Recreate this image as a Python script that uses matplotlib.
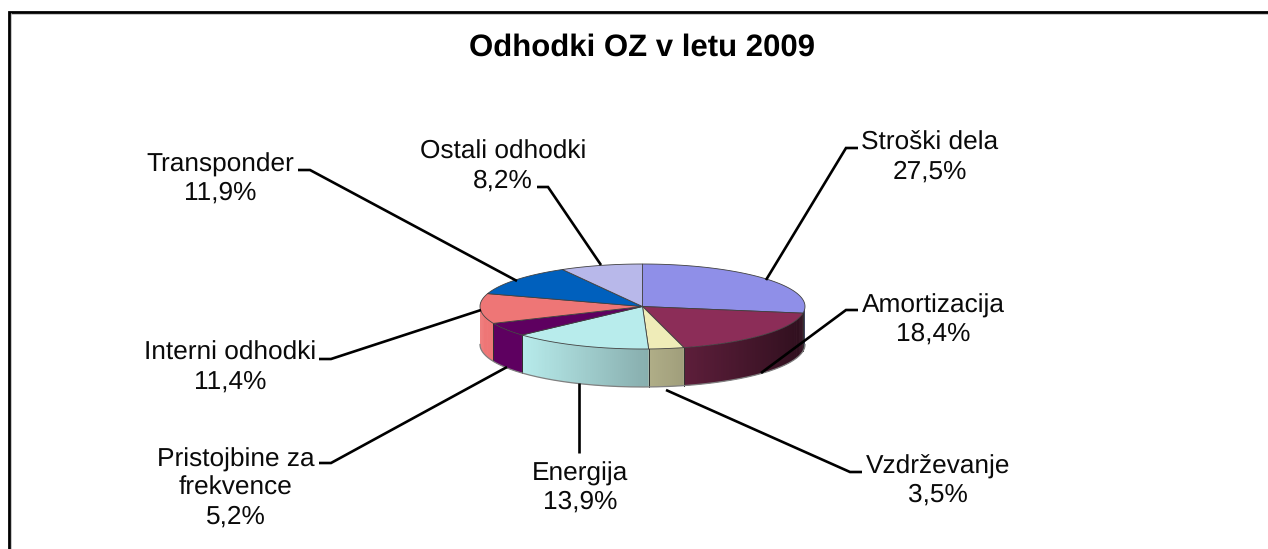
import numpy as np
import matplotlib
matplotlib.use('Agg')
import matplotlib.pyplot as plt
from matplotlib.patches import Polygon

plt.rcParams['font.family'] = ['Liberation Sans', 'DejaVu Sans']
plt.rcParams['text.hinting'] = 'no_hinting'

# podatki
names = ['Stroški dela', 'Amortizacija', 'Vzdrževanje', 'Energija',
         'Pristojbine za\nfrekvence', 'Interni odhodki', 'Transponder', 'Ostali odhodki']
values = [27.5, 18.4, 3.5, 13.9, 5.2, 11.4, 11.9, 8.2]
colors = ['#8f8fe8', '#8c2d58', '#efecb8', '#b8ecec', '#5e0060', '#ee7676', '#0060bd', '#b8b8ea']
title = 'Odhodki OZ v letu 2009'

# geometrija torte (v pikslih slike)
cx, cy = 642.5, 306.5
rx, ry = 162.5, 42.5
depth = 38

# polozaj napisov: sredina, baseline zadnje vrstice
label_pos = [(930, 179), (933, 341), (938, 502), (580, 509),
             (236, 524), (230, 389), (220, 200), (503, 188)]
# crte od napisa do torte
leaders = [
    [(858, 148), (846, 148), (766, 280)],
    [(858, 310), (846, 310), (761, 373)],
    [(862, 472), (850, 472), (666, 390)],
    [(579, 453), (579, 383)],
    [(319, 463), (331, 463), (507, 367)],
    [(319, 359), (331, 359), (481, 310)],
    [(298, 170), (310, 170), (517, 281)],
    [(537, 187), (548, 187), (601, 265)],
]


def ell(theta, dy=0):
    # kot v smeri urinega kazalca od vrha
    return cx + rx * np.sin(theta), cy - ry * np.cos(theta) + dy


def shade(color, x):
    # stranica je na desni temnejsa
    k = np.interp(x, [-1, -0.75, 0, 0.25, 0.8, 1], [1, 1, 0.75, 0.67, 0.43, 0.33])
    rgb = np.array(matplotlib.colors.to_rgb(color))
    return tuple(rgb * k)


fig = plt.figure(figsize=(12.68, 5.49), dpi=100)
ax = fig.add_axes([0, 0, 1, 1])
ax.set_xlim(0, 1268)
ax.set_ylim(549, 0)
ax.axis('off')

# okvir
ax.plot([9.3, 9.3, 1268], [549, 12, 12], color='black', lw=2.0, solid_joinstyle='miter', zorder=1)
ax.plot([11.2, 11.2], [13, 549], color='#b0b0b0', lw=0.5, zorder=1)
ax.plot([11, 1268], [13.7, 13.7], color='#b0b0b0', lw=0.5, zorder=1)

edges = np.cumsum([0] + values) / sum(values) * 2 * np.pi

# stranice
for i in range(len(values)):
    a0 = max(edges[i], np.pi / 2)
    a1 = min(edges[i + 1], 3 * np.pi / 2)
    if a1 <= a0:
        continue
    steps = np.linspace(a0, a1, int((a1 - a0) * 80) + 2)
    # ploskve gredo od desne proti levi, vsaka nekoliko prekrije prejsnjo
    for j in range(len(steps) - 1):
        t0, t1 = steps[j], steps[j + 1]
        x0, y0 = ell(t0)
        x1, y1 = ell(min(t1 + (t1 - t0), a1))
        c = shade(colors[i], np.sin((t0 + t1) / 2))
        ax.add_patch(Polygon([(x0, y0), (x1, y1), (x1, y1 + depth), (x0, y0 + depth)],
                             closed=True, fc=c, ec='none', lw=0, zorder=2))
    # rob stranice
    x0, y0 = ell(a0)
    x1, y1 = ell(a1)
    if edges[i] >= np.pi / 2:
        ax.plot([x0, x0], [y0, y0 + depth], color='#303030', lw=0.7, zorder=3)
    if edges[i + 1] <= 3 * np.pi / 2:
        ax.plot([x1, x1], [y1, y1 + depth], color='#303030', lw=0.7, zorder=3)

bt = np.linspace(np.pi / 2, 3 * np.pi / 2, 200)
bx, by = ell(bt, depth)
ax.plot(bx, by, color='#808080', lw=0.9, zorder=3)

# zgornja ploskev
for i in range(len(values)):
    t = np.linspace(edges[i], edges[i + 1], 80)
    x, y = ell(t)
    pts = [(cx, cy)] + list(zip(x, y))
    ax.add_patch(Polygon(pts, closed=True, fc=colors[i], ec='#404040', lw=0.6, zorder=4))

# crte
for pts in leaders:
    ax.plot([p[0] for p in pts], [p[1] for p in pts], color='black', lw=1.9,
            solid_capstyle='butt', solid_joinstyle='miter', zorder=5)

# napisi
for name, val, (x, y) in zip(names, values, label_pos):
    txt = '%s\n%s%%' % (name, ('%.1f' % val).replace('.', ','))
    ax.text(x, y, txt, ha='center', va='baseline', fontsize=18.9, color='#0a0a0a',
            linespacing=1.24, zorder=6)

ax.text(642, 56, title, ha='center', va='baseline', fontsize=22.4, fontweight='bold', color='black')

plt.savefig('out.png', dpi=100)
